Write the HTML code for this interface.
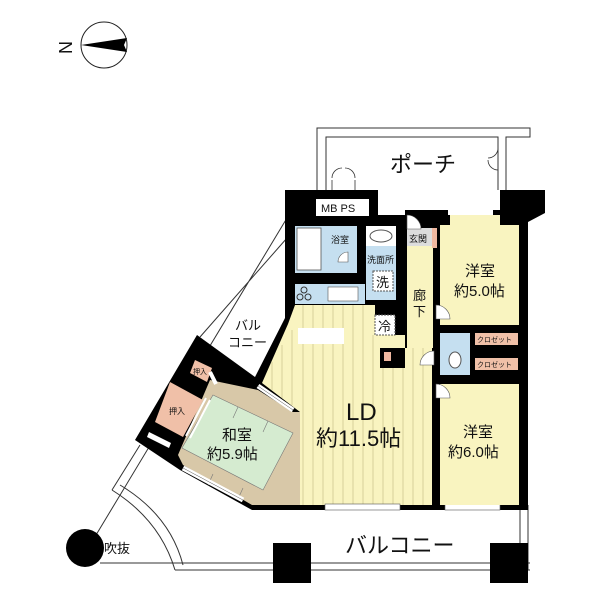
<!DOCTYPE html>
<html><head><meta charset="utf-8"><style>
html,body{margin:0;padding:0;background:#fff;}
svg{display:block;}
text{font-family:"Liberation Sans","Noto Sans CJK JP",sans-serif;fill:#111;}
</style></head><body>
<svg width="600" height="600" viewBox="0 0 600 600" xmlns="http://www.w3.org/2000/svg">
<!-- compass -->
<circle cx="104" cy="45" r="23" fill="#fff" stroke="#222" stroke-width="1"/>
<polygon points="81,45 127,38 124,45 127,52" fill="#000"/>
<text x="57" y="51" font-size="18" transform="rotate(-90 66 45)">N</text>

<!-- porch -->
<path d="M317,190 V128 H530 V137 H506 V190 M326,190 V137 H498 V190" fill="none" stroke="#333" stroke-width="1"/>
<text x="390" y="172" font-size="22">ポーチ</text>
<path d="M332,190 v-10 M355,190 v-10 M332,178 a10,10 0 0 1 10,-10 M355,178 a10,10 0 0 0 -10,-10 M498,170 a10,10 0 0 1 -10,-10 M498,148 a10,10 0 0 1 -10,10" fill="none" stroke="#333" stroke-width="0.8"/>

<!-- left balcony lines -->
<path d="M287,218 L93,540 M287,238 L200,337 M140,445 L112,490" fill="none" stroke="#333" stroke-width="1"/>
<path d="M112,490 Q160,520 175,570 M120,485 Q170,515 183,565" fill="none" stroke="#333" stroke-width="1"/>
<!-- bottom balcony -->
<path d="M100,563 H530 M175,570 H530 M520,505 V563 M528,505 V570" fill="none" stroke="#333" stroke-width="1"/>
<circle cx="85" cy="548" r="19" fill="#000"/>
<rect x="273" y="543" width="38" height="40" fill="#000"/>
<rect x="490" y="543" width="38" height="40" fill="#000"/>
<text x="104" y="553" font-size="13">吹抜</text>
<text x="345" y="553" font-size="22">バルコニー</text>
<text x="235" y="330" font-size="13">バル</text>
<text x="228" y="347" font-size="13">コニー</text>

<!-- main black walls base -->
<polygon points="285,190 378,190 378,215 405,215 405,210 500,210 500,190 545,190 545,213 528,222 528,510 252,510 180,470 135,440 197,335 255,377 285,318" fill="#000"/>

<!-- bath -->
<rect x="295" y="226" width="62" height="47" fill="#c5dff0"/>
<rect x="297" y="228" width="24" height="42" fill="#fff" stroke="#555" stroke-width="0.8"/>
<text x="331" y="243" font-size="9">浴室</text>
<path d="M338,262 a10,10 0 0 1 10,-10 v10 z" fill="#fff" stroke="#555" stroke-width="0.6"/>
<!-- wash -->
<rect x="366" y="226" width="30" height="74" fill="#c5dff0"/>
<rect x="366" y="226" width="30" height="20" fill="#fff"/>
<ellipse cx="381" cy="236" rx="11" ry="6" fill="#fff" stroke="#555"/>
<text x="367" y="263" font-size="9">洗面所</text>
<rect x="373" y="271" width="20" height="20" fill="#fff" stroke="#555" stroke-dasharray="2,1"/>
<text x="376" y="287" font-size="13">洗</text>
<!-- MB PS -->
<rect x="316" y="199" width="53" height="17" fill="#fff"/>
<text x="321" y="212" font-size="11">MB PS</text>
<!-- kitchen -->
<rect x="295" y="284" width="70" height="20" fill="#c5dff0"/>
<rect x="328" y="287" width="30" height="14" fill="#fff" stroke="#555" stroke-width="0.6"/>
<circle cx="304" cy="290" r="3" fill="none" stroke="#333"/><circle cx="300" cy="297" r="3" fill="none" stroke="#333"/><circle cx="308" cy="297" r="3" fill="none" stroke="#333"/>
<!-- LD -->
<polygon points="295,305 375,305 375,335 405,335 405,348 432,348 432,505 300,505 300,412 262,383 288,324" fill="#f9f4c0"/>
<g stroke="#c9c28a" stroke-width="0.7">
<path d="M303,305V505 M313,305V505 M323,305V505 M333,305V505 M343,305V505 M353,305V505 M363,305V505 M373,335V505 M383,348V505 M393,348V505 M403,348V505 M413,348V505 M423,348V505 M292,330V405 M282,345V398 M272,362V390"/>
</g>
<rect x="298" y="328" width="46" height="16" fill="#fff"/>
<rect x="375" y="315" width="20" height="20" fill="#fff" stroke="#555" stroke-dasharray="2,1"/>
<text x="378" y="331" font-size="13">冷</text>
<rect x="380" y="348" width="25" height="20" fill="#000"/>
<rect x="384" y="352" width="7" height="9" fill="#f0b8a0"/>
<text x="346" y="420" font-size="24">LD</text>
<text x="316" y="446" font-size="22">約11.5帖</text>
<rect x="325" y="504" width="75" height="6" fill="#fff" stroke="#555" stroke-width="0.6"/>
<rect x="445" y="504" width="55" height="6" fill="#fff" stroke="#555" stroke-width="0.6"/>

<!-- corridor -->
<rect x="407" y="240" width="26" height="108" fill="#f9f4c0"/>
<rect x="407" y="228" width="25" height="18" fill="#ddd"/>
<text x="409" y="242" font-size="9">玄関</text>
<text x="413" y="300" font-size="13">廊</text>
<text x="413" y="316" font-size="13">下</text>
<path d="M407,215 a14,14 0 0 1 14,14 H407 z" fill="#fff" stroke="#555" stroke-width="0.6"/>
<rect x="432" y="228" width="5" height="20" fill="#f0b8a0"/>
<!-- 洋室5 -->
<polygon points="440,225 450,225 450,215 500,215 500,225 519,225 519,325 440,325" fill="#f9f4c0"/>
<rect x="448" y="206" width="45" height="9" fill="#fff"/>
<text x="465" y="276" font-size="15">洋室</text>
<text x="454" y="296" font-size="15">約5.0帖</text>
<path d="M436,305 a14,14 0 0 1 14,14 H436 z" fill="#fff" stroke="#555" stroke-width="0.6"/>
<!-- toilet + closets -->
<rect x="440" y="333" width="30" height="42" fill="#c5dff0"/>
<ellipse cx="455" cy="360" rx="6" ry="8" fill="#fff" stroke="#555"/>
<rect x="475" y="333" width="43" height="12" fill="#f0c0a8"/>
<text x="477" y="342" font-size="7">クロゼット</text>
<rect x="475" y="358" width="43" height="12" fill="#f0c0a8"/>
<text x="477" y="367" font-size="7">クロゼット</text>
<path d="M420,365 a14,14 0 0 1 14,-14 v14 z" fill="#fff" stroke="#555" stroke-width="0.6"/>
<!-- 洋室6 -->
<rect x="440" y="384" width="79" height="121" fill="#f9f4c0"/>
<text x="463" y="437" font-size="15">洋室</text>
<text x="448" y="457" font-size="15">約6.0帖</text>
<path d="M436,384 a14,14 0 0 1 14,14 H436 z" fill="#fff" stroke="#555" stroke-width="0.6"/>

<!-- 和室 -->
<polygon points="210,380 258,390 293,412 300,412 300,505 252,505 183,465 178,455" fill="#d8c8a8"/>
<polygon points="213,395 293,433 263,490 182,448" fill="#d5ebd0" stroke="#777" stroke-width="0.6"/>
<path d="M238,407 L233,418 M268,421 L263,432 M213,474 L208,485 M243,488 L238,499" stroke="#777" stroke-width="0.6"/>
<text x="222" y="440" font-size="15">和室</text>
<text x="207" y="459" font-size="15">約5.9帖</text>
<polygon points="195,360 212,368 207,382 190,373" fill="#f0c0a8"/>
<text x="193" y="374" font-size="7">押入</text>
<polygon points="170,382 203,400 183,437 155,422" fill="#f0c0a8"/>
<text x="169" y="414" font-size="8">押入</text>
<path d="M206,398 L186,436 M210,400 L190,438" stroke="#fff" stroke-width="2"/>
<path d="M210,372 L216,384" stroke="#fff" stroke-width="4"/>
<polygon points="149,432 171,443 169,448 147,437" fill="#fff"/>
<path d="M258,386 L293,410 M183,468 L243,500" stroke="#fff" stroke-width="5"/>
<path d="M258,386 L293,410 M183,468 L243,500" stroke="#555" stroke-width="0.5"/>
</svg>
</body></html>
